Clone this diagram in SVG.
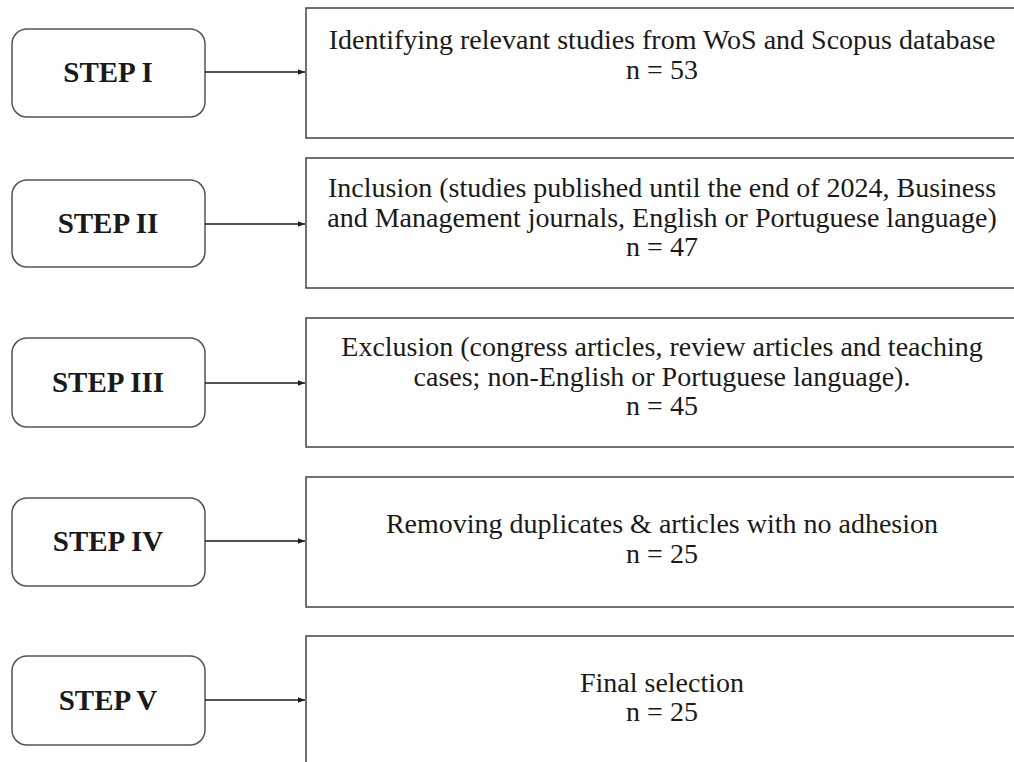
<svg xmlns="http://www.w3.org/2000/svg" width="1014" height="762" viewBox="0 0 1014 762">
  <style>
    .step rect { fill: #ffffff; stroke: #555555; stroke-width: 1.5; }
    .step text { font-family: "Liberation Serif", "Times New Roman", serif; font-weight: bold; font-size: 29px; fill: #1a1a1a; text-anchor: middle; }
    .info rect { fill: #ffffff; stroke: #444444; stroke-width: 1.5; }
    .info text { font-family: "Liberation Serif", "Times New Roman", serif; font-size: 28px; fill: #1a1a1a; text-anchor: middle; }
    .links line { stroke: #1a1a1a; stroke-width: 1.6; marker-end: url(#arrow); }
  </style>
  <defs>
    <marker id="arrow" viewBox="0 0 10 10" refX="10" refY="5" markerWidth="7" markerHeight="7" orient="auto" markerUnits="userSpaceOnUse">
      <path d="M0,1 L10,5 L0,9 Z" fill="#1a1a1a"/>
    </marker>
  </defs>
  <rect width="1014" height="762" fill="#ffffff"/>

  <!-- step labels -->
  <g id="step1" class="step">
    <rect x="12" y="29" width="193" height="88" rx="15"/>
    <text x="108" y="82">STEP I</text>
  </g>
  <g id="step2" class="step">
    <rect x="12" y="180" width="193" height="87" rx="15"/>
    <text x="108" y="233">STEP II</text>
  </g>
  <g id="step3" class="step">
    <rect x="12" y="338" width="193" height="89" rx="15"/>
    <text x="108" y="392">STEP III</text>
  </g>
  <g id="step4" class="step">
    <rect x="12" y="498" width="193" height="88" rx="15"/>
    <text x="108" y="551">STEP IV</text>
  </g>
  <g id="step5" class="step">
    <rect x="12" y="656" width="193" height="89" rx="15"/>
    <text x="108" y="710">STEP V</text>
  </g>

  <!-- description boxes (right edge runs past the canvas) -->
  <g id="box1" class="info">
    <rect x="306" y="8" width="730" height="130"/>
    <text x="662" y="49">Identifying relevant studies from WoS and Scopus database</text>
    <text x="662" y="79">n = 53</text>
  </g>
  <g id="box2" class="info">
    <rect x="306" y="158" width="730" height="130"/>
    <text x="662" y="197">Inclusion (studies published until the end of 2024, Business</text>
    <text x="662" y="227">and Management journals, English or Portuguese language)</text>
    <text x="662" y="256">n = 47</text>
  </g>
  <g id="box3" class="info">
    <rect x="306" y="318" width="730" height="129"/>
    <text x="662" y="356">Exclusion (congress articles, review articles and teaching</text>
    <text x="662" y="386">cases; non-English or Portuguese language).</text>
    <text x="662" y="415">n = 45</text>
  </g>
  <g id="box4" class="info">
    <rect x="306" y="477" width="730" height="130"/>
    <text x="662" y="533">Removing duplicates &amp; articles with no adhesion</text>
    <text x="662" y="563">n = 25</text>
  </g>
  <g id="box5" class="info">
    <rect x="306" y="636" width="730" height="140"/>
    <text x="662" y="692">Final selection</text>
    <text x="662" y="721">n = 25</text>
  </g>

  <!-- connectors -->
  <g id="connectors" class="links">
    <line x1="205" y1="72" x2="305" y2="72"/>
    <line x1="205" y1="224" x2="305" y2="224"/>
    <line x1="205" y1="383" x2="305" y2="383"/>
    <line x1="205" y1="541" x2="305" y2="541"/>
    <line x1="205" y1="700" x2="305" y2="700"/>
  </g>
</svg>
